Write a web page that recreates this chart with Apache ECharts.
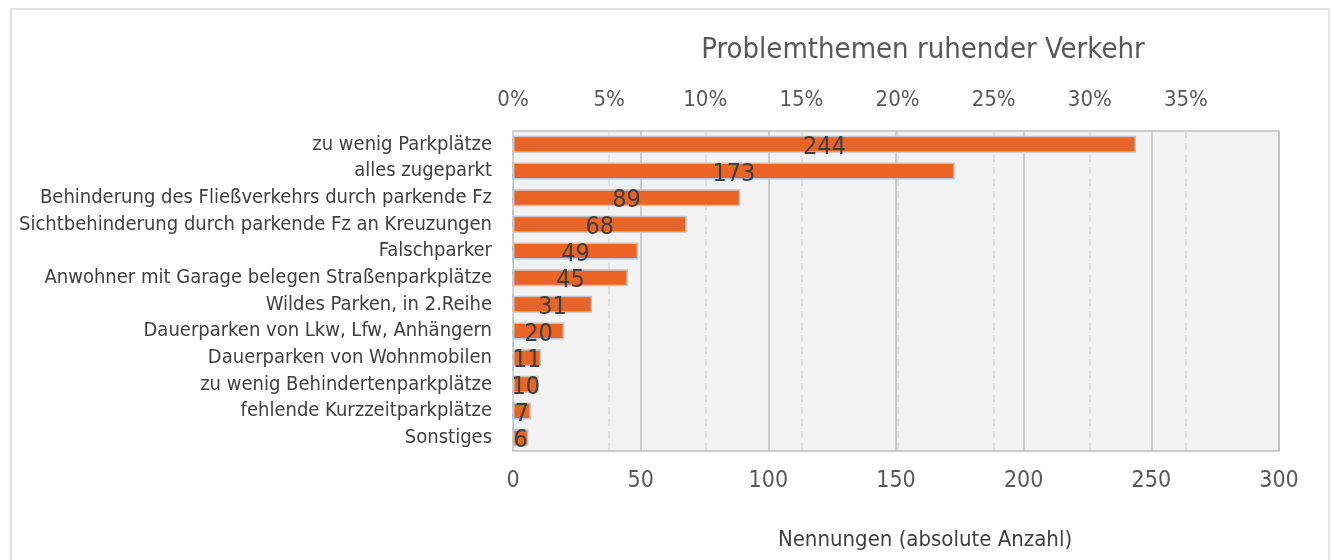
<!DOCTYPE html>
<html>
<head>
<meta charset="utf-8">
<script src="https://cdn.jsdelivr.net/npm/echarts@6/dist/echarts.min.js"></script>
<style>
  html, body { margin: 0; padding: 0; background: #fff; }
  #chart { width: 1332px; height: 560px; }
</style>
</head>
<body>
<div id="chart"></div>
<script>
// Problem topics, parked traffic: number of mentions per topic
const categories = [
  'zu wenig Parkplätze',
  'alles zugeparkt',
  'Behinderung des Fließverkehrs durch parkende Fz',
  'Sichtbehinderung durch parkende Fz an Kreuzungen',
  'Falschparker',
  'Anwohner mit Garage belegen Straßenparkplätze',
  'Wildes Parken, in 2.Reihe',
  'Dauerparken von Lkw, Lfw, Anhängern',
  'Dauerparken von Wohnmobilen',
  'zu wenig Behindertenparkplätze',
  'fehlende Kurzzeitparkplätze',
  'Sonstiges'
];
const mentions = [244, 173, 89, 68, 49, 45, 31, 20, 11, 10, 7, 6];

const countMax = 300;
const countStep = 50;
const percentStep = 5;

// share axis: the count axis expressed as percent of all mentions
const totalMentions = mentions.reduce((a, b) => a + b, 0);
const percentMax = countMax / totalMentions * 100;

const FONT = "'DejaVu Sans Condensed', 'Liberation Sans', sans-serif";

const chart = echarts.init(document.getElementById('chart'), null, { renderer: 'canvas' });

chart.setOption({
  backgroundColor: '#ffffff',
  animation: false,
  textStyle: { fontFamily: FONT },
  title: {
    text: 'Problemthemen ruhender Verkehr',
    left: 918,
    top: 31,
    textAlign: 'center',
    textStyle: { fontFamily: FONT, fontSize: 29, fontWeight: 'normal', color: '#595959' }
  },
  graphic: [{
    type: 'rect',
    shape: { x: 11, y: 9, width: 1318, height: 600 },
    style: { fill: 'none', stroke: '#d9d9d9', lineWidth: 1.5 },
    silent: true,
    z: -1
  }],
  grid: {
    left: 513, top: 131, right: 53, bottom: 109,
    show: true,
    backgroundColor: '#f2f2f2',
    borderColor: '#bfbfbf',
    borderWidth: 1.5
  },
  xAxis: [
    {
      type: 'value',
      position: 'bottom',
      min: 0,
      max: countMax,
      interval: countStep,
      axisLine: { show: false },
      axisTick: { show: false },
      axisLabel: { fontFamily: FONT, fontSize: 23, color: '#595959', margin: 19 },
      splitLine: { show: true, lineStyle: { color: '#bfbfbf', width: 1.5, type: 'solid' } },
      name: 'Nennungen (absolute Anzahl)',
      nameLocation: 'middle',
      nameGap: 78,
      nameTextStyle: { fontFamily: FONT, fontSize: 22, color: '#404040', padding: [0, 0, 0, 58] }
    },
    {
      type: 'value',
      position: 'top',
      min: 0,
      max: percentMax,
      interval: percentStep,
      axisLine: { show: false },
      axisTick: { show: false },
      axisLabel: {
        fontFamily: FONT, fontSize: 22, color: '#595959', margin: 20,
        showMaxLabel: false,
        formatter: v => (Math.abs(v / percentStep - Math.round(v / percentStep)) < 1e-6 ? Math.round(v) + '%' : '')
      },
      splitLine: {
        show: true,
        showMaxLine: false,
        lineStyle: { color: '#d9d9d9', width: 1.5, type: [7, 5] }
      }
    }
  ],
  yAxis: {
    type: 'category',
    data: categories,
    inverse: true,
    axisLine: { show: false },
    axisTick: { show: false },
    splitLine: { show: false },
    axisLabel: { fontFamily: FONT, fontSize: 20, color: '#404040', margin: 21 }
  },
  series: [{
    type: 'bar',
    xAxisIndex: 0,
    data: mentions,
    barWidth: '64%',
    itemStyle: { color: '#ea6426', borderColor: '#c4c4c4', borderWidth: 1.5 },
    label: {
      show: true,
      position: 'inside',
      offset: [0, 3],
      fontFamily: FONT,
      fontSize: 25,
      color: '#404040'
    }
  }]
});
</script>
</body>
</html>
